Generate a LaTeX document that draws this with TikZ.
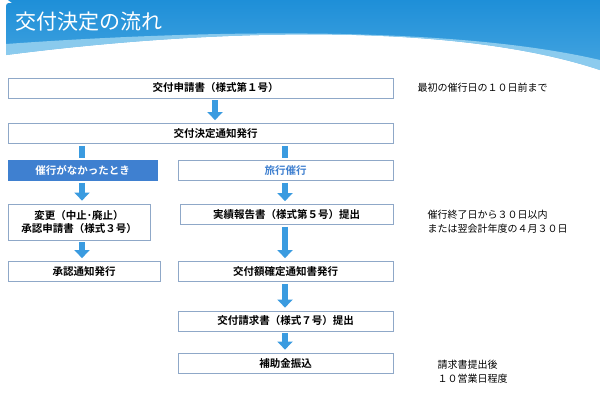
\documentclass[tikz,border=0pt]{standalone}
\usepackage{fontspec}
\setmainfont{Noto Sans CJK JP}
\newfontfamily\jpb{Noto Sans CJK JP}[BoldFont={* Bold}]
\usetikzlibrary{arrows.meta,calc}
\definecolor{bd}{HTML}{8FA8C8}
\definecolor{arr}{HTML}{3A9BE0}
\definecolor{hb}{HTML}{3F80D0}
\definecolor{hd}{HTML}{1E8FD8}
\definecolor{hl}{HTML}{9FD6F2}
\tikzset{
 bx/.style={draw=bd,line width=0.8pt,fill=white,minimum height=20pt,font=\jpb\bfseries\fontsize{10.5}{13}\selectfont,inner sep=1pt,align=center},
 ar/.style={draw=arr,line width=6pt,-{Triangle[width=15pt,length=8pt]},shorten >=3pt,shorten <=2pt},
 st/.style={draw=arr,line width=6pt,shorten <=2pt,shorten >=2pt},
 note/.style={anchor=west,font=\fontsize{10}{14}\selectfont,align=left}
}
\begin{document}
\begin{tikzpicture}[x=1pt,y=-1pt]
\useasboundingbox (0,0) rectangle (600,400);
\fill[white] (0,0) rectangle (600,400);
\shade[top color=hd, bottom color=hd!70!hl] (8,0) -- (600,0) -- (600,70) .. controls (450,20) and (200,30) .. (6,55) -- (6,10) .. controls (6,3) .. (12,3) -- cycle;
\fill[hl,opacity=0.8] (6,44) .. controls (200,30) and (450,25) .. (600,60) -- (600,70) .. controls (450,20) and (200,30) .. (6,55) -- cycle;
\node[anchor=west,text=white,font=\fontsize{21}{24}\selectfont] (title) at (12,22) {交付決定の流れ};
\node[bx,minimum width=385pt] (a) at (200.5,88) {\hspace*{30pt}交付申請書（様式第１号）};
\node[bx,minimum width=385pt] (b) at (200.5,133.5) {\hspace*{30pt}交付決定通知発行};
\node[bx,fill=hb,draw=hb,text=white,minimum width=149pt] (c) at (82.5,170.5) {催行がなかったとき};
\node[bx,text=hb,minimum width=215pt] (d) at (285.5,170.5) {旅行催行};
\node[bx,minimum width=142pt,minimum height=36pt] (e) at (79,222) {変更（中止･廃止）\\承認申請書（様式３号）};
\node[bx,minimum width=213pt] (f) at (286.5,214.5) {実績報告書（様式第５号）提出};
\node[bx,minimum width=152pt] (g) at (84,271.5) {承認通知発行};
\node[bx,minimum width=215pt] (h) at (285.5,271.5) {交付額確定通知書発行};
\node[bx,minimum width=215pt] (i) at (285.5,321) {交付請求書（様式７号）提出};
\node[bx,minimum width=215pt] (j) at (285.5,363) {補助金振込};
\draw[ar] (a.south-|215,0) -- (b.north-|215,0);
\draw[st] (b.south-|82,0) -- (c.north-|82,0);
\draw[st] (b.south-|285,0) -- (d.north-|285,0);
\draw[ar] (c.south-|82,0) -- (e.north-|82,0);
\draw[ar] (d.south-|285,0) -- (f.north-|285,0);
\draw[ar] (e.south-|82,0) -- (g.north-|82,0);
\draw[ar] (f.south-|285,0) -- (h.north-|285,0);
\draw[ar] (h.south-|285,0) -- (i.north-|285,0);
\draw[ar] (i.south-|285,0) -- (j.north-|285,0);
\node[note] (n1) at (414,88) {最初の催行日の１０日前まで};
\node[note] (n2) at (424,222) {催行終了日から３０日以内\\または翌会計年度の４月３０日};
\node[note] (n3) at (434,372) {請求書提出後\\１０営業日程度};
\end{tikzpicture}
\end{document}
